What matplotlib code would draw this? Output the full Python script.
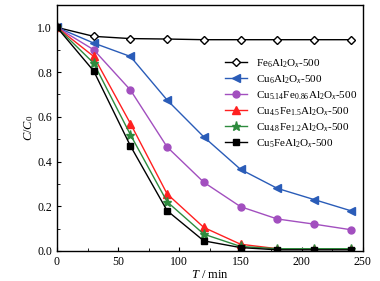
import numpy as np
import matplotlib
matplotlib.use("Agg")
import matplotlib.pyplot as plt
from matplotlib.ticker import MultipleLocator

plt.rcParams['font.family'] = 'Liberation Serif'
plt.rcParams['mathtext.fontset'] = 'custom'
plt.rcParams['mathtext.rm'] = 'Liberation Serif'
plt.rcParams['mathtext.it'] = 'Liberation Serif:italic'

time_min = [0, 30, 60, 90, 120, 150, 180, 210, 240]

fe6 = [1.0, 0.96, 0.95, 0.948, 0.945, 0.945, 0.945, 0.945, 0.945]
cu6 = [1.0, 0.93, 0.87, 0.675, 0.51, 0.365, 0.28, 0.23, 0.18]
cu514 = [1.0, 0.90, 0.72, 0.465, 0.307, 0.198, 0.143, 0.12, 0.095]
cu45 = [1.0, 0.87, 0.57, 0.255, 0.105, 0.03, 0.01, 0.01, 0.01]
cu48 = [1.0, 0.84, 0.52, 0.22, 0.075, 0.02, 0.01, 0.01, 0.01]
cu5 = [1.0, 0.805, 0.47, 0.18, 0.045, 0.015, 0.005, 0.005, 0.005]

labels = [r'Fe$_6$Al$_2$O$_x$-500',
          r'Cu$_6$Al$_2$O$_x$-500',
          r'Cu$_{5.14}$Fe$_{0.86}$Al$_2$O$_x$-500',
          r'Cu$_{4.5}$Fe$_{1.5}$Al$_2$O$_x$-500',
          r'Cu$_{4.8}$Fe$_{1.2}$Al$_2$O$_x$-500',
          r'Cu$_5$FeAl$_2$O$_x$-500']

fig = plt.figure(figsize=(3.8, 2.81), dpi=100)
ax = fig.add_axes([0.15, 0.107, 0.805, 0.875])

styles = [
    (fe6, 'black', 'D', 'white', 4),
    (cu6, '#2a5cb8', '<', '#2a5cb8', 5.5),
    (cu514, '#a24fbf', 'o', '#a24fbf', 5),
    (cu45, '#ff2020', '^', '#ff2020', 5.5),
    (cu48, '#2e8b3e', '*', '#2e8b3e', 6.5),
    (cu5, 'black', 's', 'black', 4.5),
]
for (vals, color, marker, fc, ms), lab in zip(styles, labels):
    ax.plot(time_min, vals, color=color, marker=marker, markerfacecolor=fc,
            markeredgecolor=color, markersize=ms, linewidth=1, label=lab)

ax.set_xlim(0, 250)
ax.set_ylim(0, 1.1)
ax.xaxis.set_major_locator(MultipleLocator(50))
ax.xaxis.set_minor_locator(MultipleLocator(25))
ax.yaxis.set_major_locator(MultipleLocator(0.2))
ax.yaxis.set_minor_locator(MultipleLocator(0.1))
ax.yaxis.set_major_formatter(plt.FormatStrFormatter('%.1f'))
ax.tick_params(which='both', direction='in', labelsize=8.5)
ax.tick_params(which='major', length=3)
ax.tick_params(which='minor', length=2)
for s in ax.spines.values():
    s.set_linewidth(1)

ax.set_xlabel(r'$T$ / min', fontsize=9, labelpad=1)
ax.set_ylabel(r'$C$/$C_0$', fontsize=9, labelpad=1)

ax.legend(loc='center left', bbox_to_anchor=(0.53, 0.60), frameon=False,
          fontsize=8, borderpad=0, handlelength=2.0, handletextpad=0.8,
          labelspacing=0.32)

fig.savefig('out.png', dpi=100)
